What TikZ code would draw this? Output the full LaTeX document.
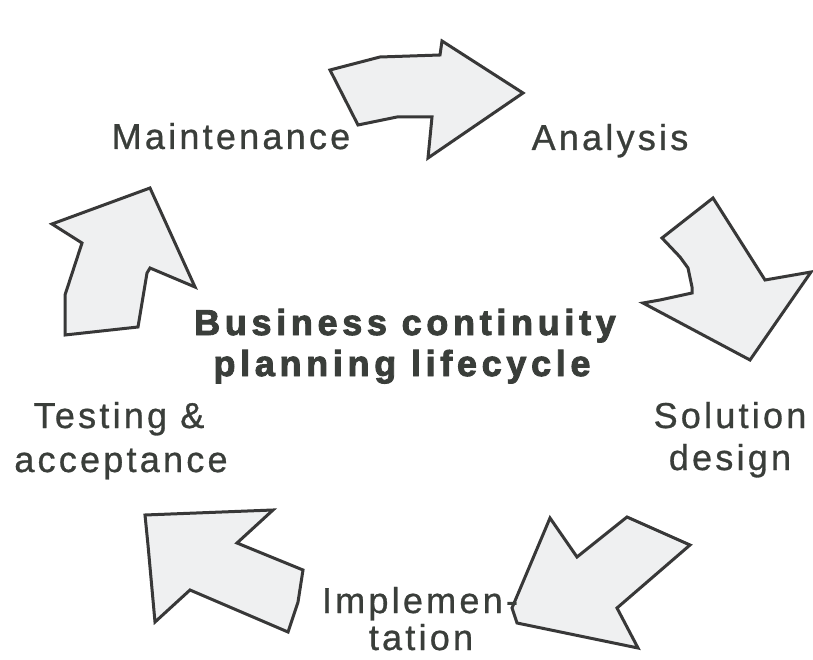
\documentclass[tikz,border=0pt]{standalone}
\usepackage{fontspec}
\setmainfont{Liberation Sans}
\newfontfamily\labfont[LetterSpace=9,FakeBold=0.8]{Liberation Sans}
\newfontfamily\ttlfont[LetterSpace=13,FakeBold=2.5]{Liberation Sans Bold}
\definecolor{ink}{HTML}{3A3E3A}
\definecolor{edge}{HTML}{383838}
\definecolor{paper}{HTML}{EFF0F1}
\begin{document}
\begin{tikzpicture}[x=1pt,y=-1pt,
  arrowshape/.style={draw=edge,fill=paper,line width=3pt,line join=miter},
  lab/.style={anchor=base,inner sep=0pt,text=ink,font=\labfont\fontsize{36}{40}\selectfont},
  ttl/.style={anchor=base,inner sep=0pt,text=ink,font=\ttlfont\fontsize{36}{40}\selectfont}]
\useasboundingbox (0,0) rectangle (813,660);
\fill[white] (0,0) rectangle (813,660);
% arrows
\draw[arrowshape] (330,70) -- (380,57) -- (440,55) -- (442,41) -- (523,93) -- (428,158) -- (432,117) -- (397,117) -- (358,125) -- cycle;
\draw[arrowshape] (713,198) -- (765,280) -- (811,272) -- (750,360) -- (643,303) -- (660,300) -- (692,293) -- (692,287) -- (688,268) -- (680,257) -- (662,238) -- cycle;
\draw[arrowshape] (550,518) -- (577,557) -- (627,517) -- (690,545) -- (617,608) -- (638,648) -- (517,623) -- (512,608) -- cycle;
\draw[arrowshape] (145,515) -- (273,510) -- (237,543) -- (303,570) -- (298,602) -- (288,632) -- (190,590) -- (155,622) -- (148,545) -- cycle;
\draw[arrowshape] (150,188) -- (195,287) -- (150,268) -- (147,273) -- (138,327) -- (65,335) -- (65,295) -- (82,243) -- (52,224) -- cycle;
% labels
\node[lab] (maint) at (231,149) {Maintenance};
\node[lab] (anal) at (610,150) {Analysis};
\node[lab] (sol1) at (730,428) {Solution};
\node[lab] (sol2) at (730,470) {design};
\node[lab] (impl1) at (420,613) {Implemen-};
\node[lab] (impl2) at (421,650) {tation};
\node[lab] (test1) at (119,428) {Testing \&};
\node[lab] (test2) at (121,472) {acceptance};
\node[ttl] (title1) at (405,335) {Business continuity};
\node[ttl] (title2) at (402,376) {planning lifecycle};
\end{tikzpicture}
\end{document}
